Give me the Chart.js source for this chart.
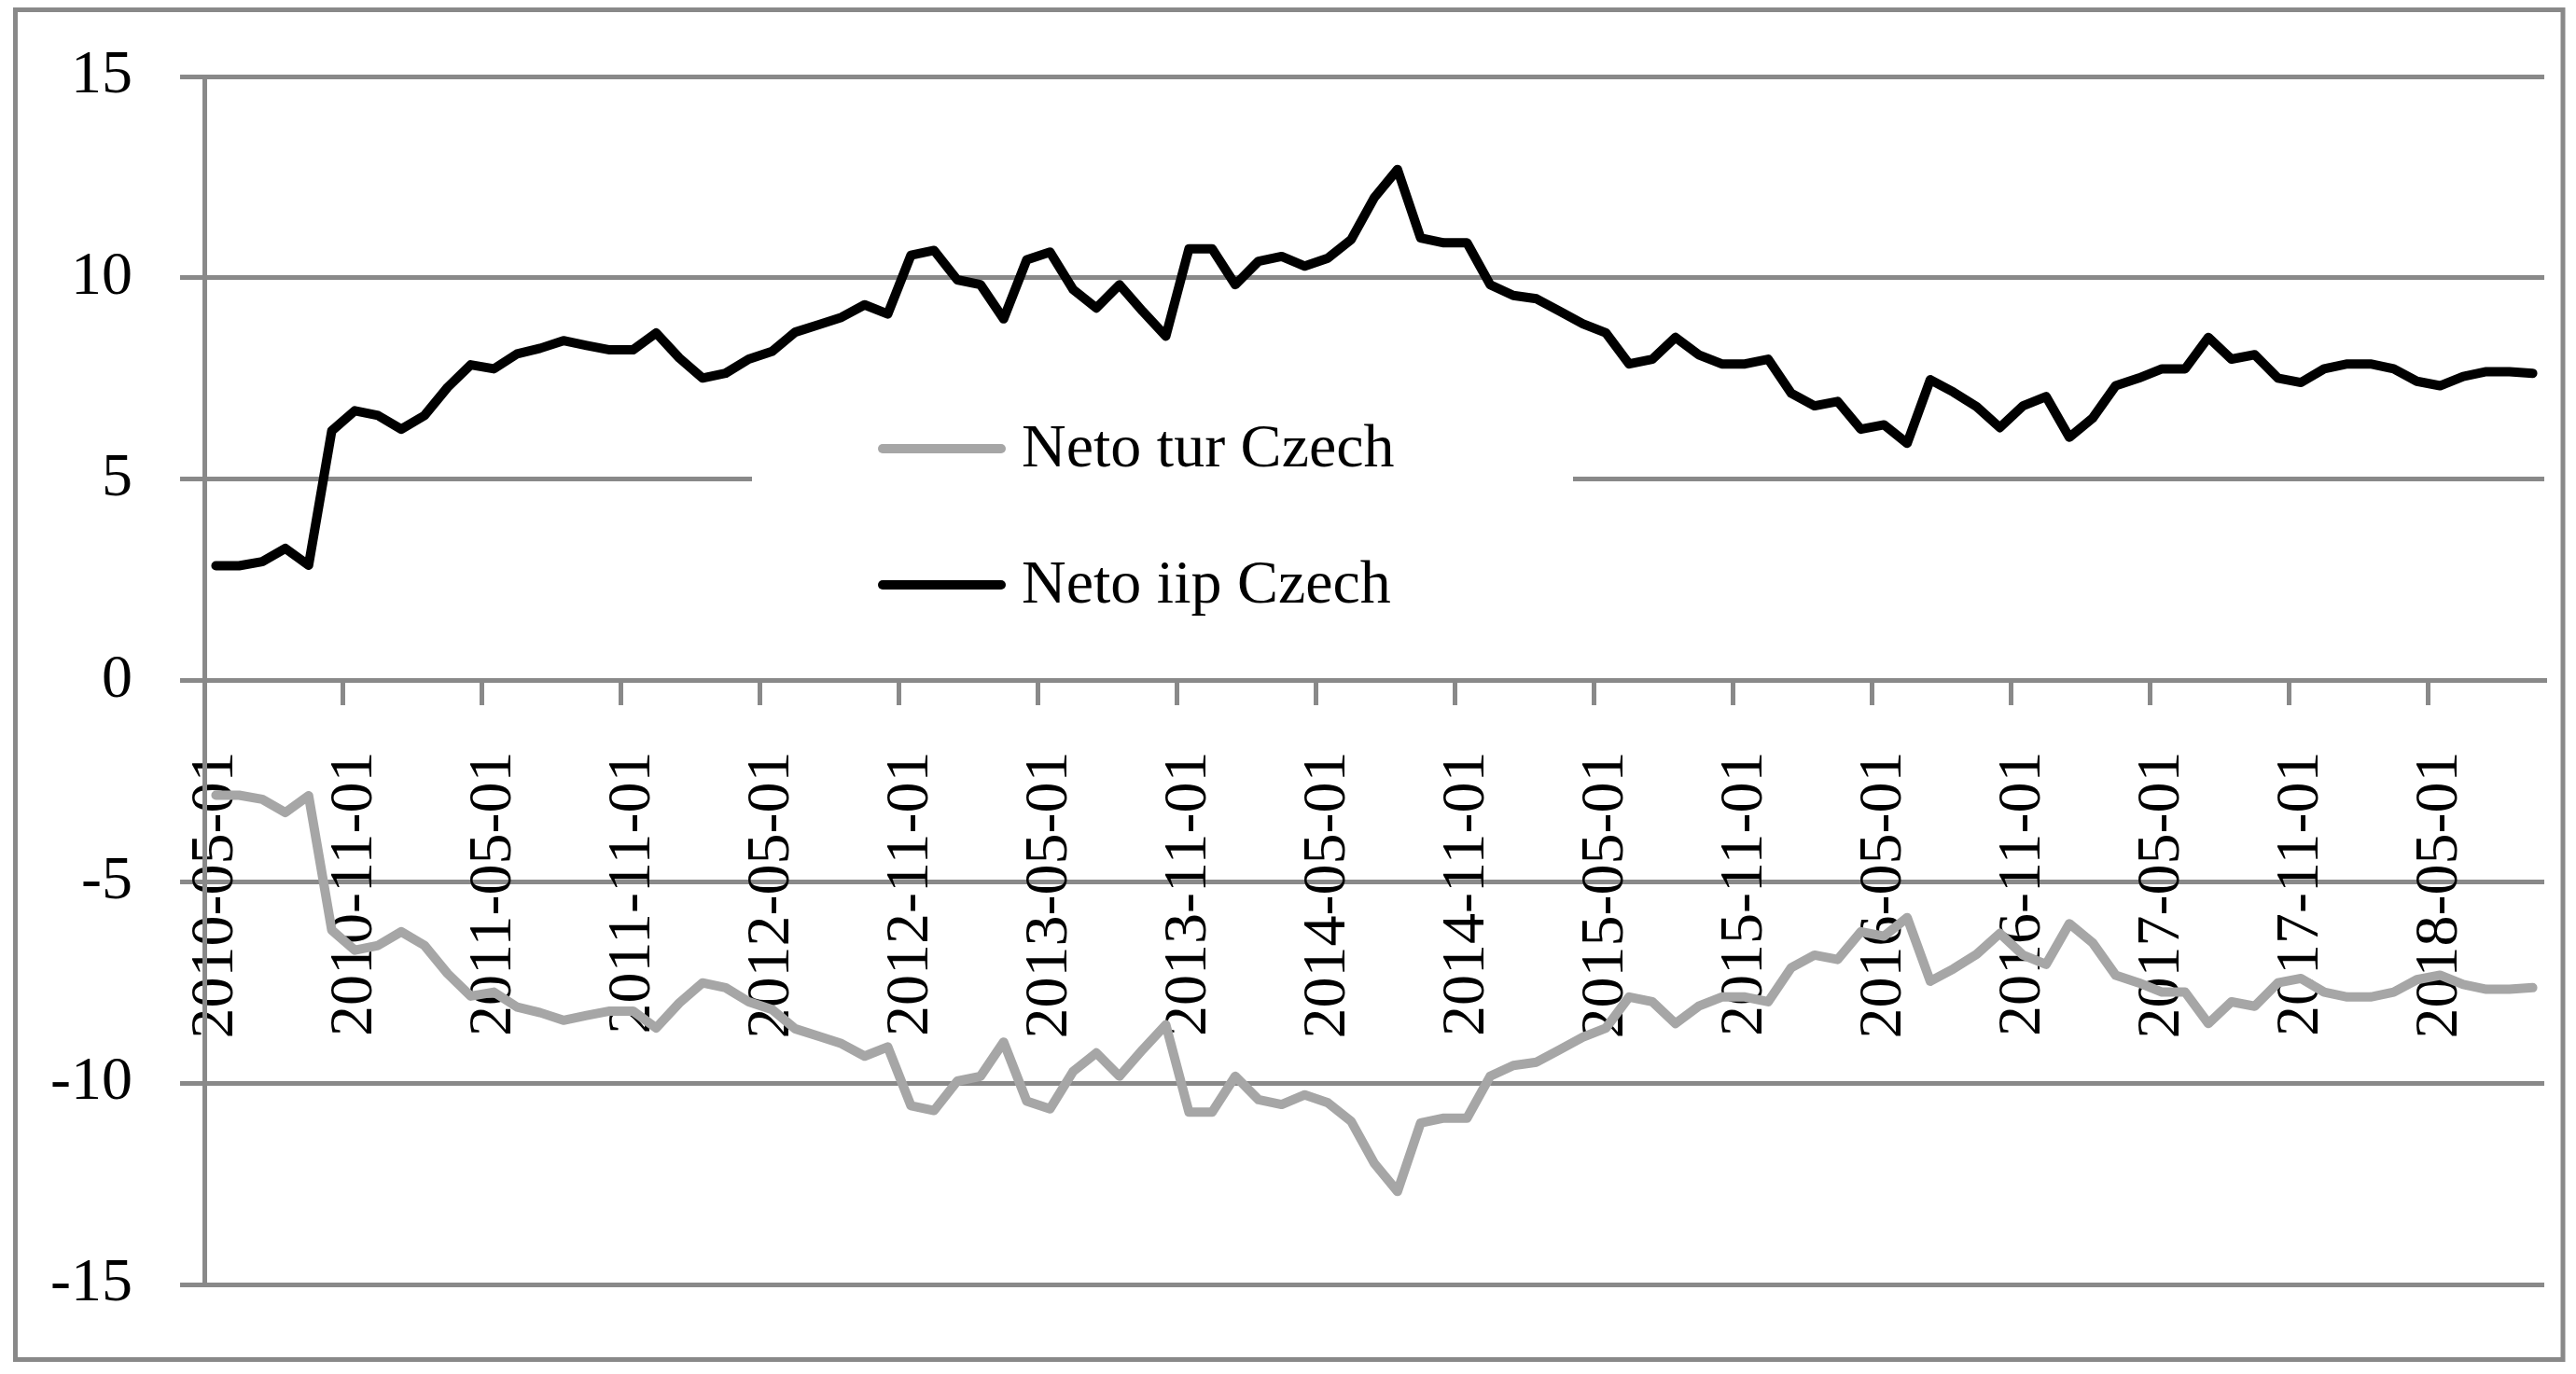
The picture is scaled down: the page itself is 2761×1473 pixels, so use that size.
<!DOCTYPE html>
<html>
<head>
<meta charset="utf-8">
<script src="https://cdn.jsdelivr.net/npm/chart.js@4/dist/chart.umd.min.js"></script>
<style>
  html, body { margin: 0; padding: 0; background: #fff; }
  canvas { display: block; }
</style>
</head>
<body>
<canvas id="chart" width="2761" height="1473"></canvas>
<script>
// monthly categories, 2010-05 .. 2018-09
const months = [
  "2010-05-01", "2010-06-01", "2010-07-01", "2010-08-01", "2010-09-01", "2010-10-01", "2010-11-01", "2010-12-01",
  "2011-01-01", "2011-02-01", "2011-03-01", "2011-04-01", "2011-05-01", "2011-06-01", "2011-07-01", "2011-08-01", "2011-09-01", "2011-10-01", "2011-11-01", "2011-12-01",
  "2012-01-01", "2012-02-01", "2012-03-01", "2012-04-01", "2012-05-01", "2012-06-01", "2012-07-01", "2012-08-01", "2012-09-01", "2012-10-01", "2012-11-01", "2012-12-01",
  "2013-01-01", "2013-02-01", "2013-03-01", "2013-04-01", "2013-05-01", "2013-06-01", "2013-07-01", "2013-08-01", "2013-09-01", "2013-10-01", "2013-11-01", "2013-12-01",
  "2014-01-01", "2014-02-01", "2014-03-01", "2014-04-01", "2014-05-01", "2014-06-01", "2014-07-01", "2014-08-01", "2014-09-01", "2014-10-01", "2014-11-01", "2014-12-01",
  "2015-01-01", "2015-02-01", "2015-03-01", "2015-04-01", "2015-05-01", "2015-06-01", "2015-07-01", "2015-08-01", "2015-09-01", "2015-10-01", "2015-11-01", "2015-12-01",
  "2016-01-01", "2016-02-01", "2016-03-01", "2016-04-01", "2016-05-01", "2016-06-01", "2016-07-01", "2016-08-01", "2016-09-01", "2016-10-01", "2016-11-01", "2016-12-01",
  "2017-01-01", "2017-02-01", "2017-03-01", "2017-04-01", "2017-05-01", "2017-06-01", "2017-07-01", "2017-08-01", "2017-09-01", "2017-10-01", "2017-11-01", "2017-12-01",
  "2018-01-01", "2018-02-01", "2018-03-01", "2018-04-01", "2018-05-01", "2018-06-01", "2018-07-01", "2018-08-01", "2018-09-01"
];

// labels that are printed under the axis
const tickLabels = [
  "2010-05-01", "2010-11-01", "2011-05-01", "2011-11-01", "2012-05-01", "2012-11-01",
  "2013-05-01", "2013-11-01", "2014-05-01", "2014-11-01", "2015-05-01", "2015-11-01",
  "2016-05-01", "2016-11-01", "2017-05-01", "2017-11-01", "2018-05-01"
];

const yTicks = [-15, -10, -5, 0, 5, 10, 15];

const netoIip = [
  2.85, 2.85, 2.95, 3.28, 2.86, 6.2, 6.7, 6.58,
  6.24, 6.58, 7.28, 7.84, 7.74, 8.11, 8.25, 8.44, 8.32, 8.21, 8.21, 8.63,
  8.01, 7.51, 7.63, 7.98, 8.17, 8.65, 8.83, 9.02, 9.33, 9.1, 10.56, 10.68,
  9.95, 9.83, 8.98, 10.45, 10.64, 9.71, 9.25, 9.83, 9.17, 8.55, 10.72, 10.72,
  9.83, 10.41, 10.53, 10.29, 10.49, 10.95, 11.99, 12.69, 10.99, 10.87, 10.87, 9.83,
  9.56, 9.48, 9.17, 8.86, 8.63, 7.86, 7.98, 8.52, 8.09, 7.86, 7.86, 7.98,
  7.13, 6.82, 6.93, 6.24, 6.35, 5.89, 7.47, 7.16, 6.8, 6.28, 6.82, 7.05,
  6.04, 6.51, 7.32, 7.51, 7.74, 7.74, 8.52, 7.98, 8.09, 7.51, 7.4, 7.74,
  7.86, 7.86, 7.74, 7.43, 7.32, 7.55, 7.67, 7.67, 7.63
];

const netoTur = [
  -2.85, -2.85, -2.95, -3.28, -2.86, -6.2, -6.7, -6.58,
  -6.24, -6.58, -7.28, -7.84, -7.74, -8.11, -8.25, -8.44, -8.32, -8.21, -8.21, -8.63,
  -8.01, -7.51, -7.63, -7.98, -8.17, -8.65, -8.83, -9.02, -9.33, -9.1, -10.56, -10.68,
  -9.95, -9.83, -8.98, -10.45, -10.64, -9.71, -9.25, -9.83, -9.17, -8.55, -10.72, -10.72,
  -9.83, -10.41, -10.53, -10.29, -10.49, -10.95, -11.99, -12.69, -10.99, -10.87, -10.87, -9.83,
  -9.56, -9.48, -9.17, -8.86, -8.63, -7.86, -7.98, -8.52, -8.09, -7.86, -7.86, -7.98,
  -7.13, -6.82, -6.93, -6.24, -6.35, -5.89, -7.47, -7.16, -6.8, -6.28, -6.82, -7.05,
  -6.04, -6.51, -7.32, -7.51, -7.74, -7.74, -8.52, -7.98, -8.09, -7.51, -7.4, -7.74,
  -7.86, -7.86, -7.74, -7.43, -7.32, -7.55, -7.67, -7.67, -7.63
];

const seriesNames = ["Neto tur Czech", "Neto iip Czech"];
const seriesColors = ["#a6a6a6", "#000000"];

const GRID = "#898989";
const FONT = "'Liberation Serif', 'DejaVu Serif', serif";

// outer chart border, like the spreadsheet frame
const framePlugin = {
  id: "frame",
  afterDraw(chart) {
    const c = chart.ctx;
    c.save();
    c.strokeStyle = GRID;
    c.lineWidth = 5;
    c.strokeRect(16.5, 10.5, 2747 - 16.5, 1457.5 - 10.5);
    c.restore();
  },
};

// legend sits inside the plot on a white box
const legendPlugin = {
  id: "insideLegend",
  afterDatasetsDraw(chart) {
    const c = chart.ctx;
    c.save();
    c.fillStyle = "#fff";
    c.fillRect(806, 420, 880, 280);
    const rows = [481, 627];
    chart.data.datasets.forEach((ds, i) => {
      const y = rows[i];
      c.strokeStyle = ds.borderColor;
      c.lineWidth = 10;
      c.lineCap = "round";
      c.beginPath();
      c.moveTo(946, y);
      c.lineTo(1073, y);
      c.stroke();
      c.fillStyle = "#000";
      c.font = "66px " + FONT;
      c.textBaseline = "middle";
      c.textAlign = "left";
      c.fillText(ds.label, 1095, y + 2);
    });
    c.restore();
  },
};

new Chart(document.getElementById("chart"), {
  type: "line",
  data: {
    labels: months,
    datasets: [
      {
        label: seriesNames[0],
        data: netoTur,
        borderColor: seriesColors[0],
        borderWidth: 10,
        pointRadius: 0,
        tension: 0,
        borderCapStyle: "round",
        borderJoinStyle: "round",
      },
      {
        label: seriesNames[1],
        data: netoIip,
        borderColor: seriesColors[1],
        borderWidth: 10,
        pointRadius: 0,
        tension: 0,
        borderCapStyle: "round",
        borderJoinStyle: "round",
      },
    ],
  },
  options: {
    responsive: false,
    animation: false,
    devicePixelRatio: 1,
    layout: { padding: { left: 0, top: 82, right: 34, bottom: 96 } },
    plugins: {
      legend: { display: false },
      tooltip: { enabled: false },
    },
    scales: {
      x: {
        type: "category",
        offset: true,
        position: { y: 0 },
        grid: {
          offset: true,
          drawOnChartArea: false,
          drawTicks: true,
          tickLength: 24,
          lineWidth: 5,
          color: (ctx) => (ctx.index % 6 === 0 ? GRID : "rgba(0,0,0,0)"),
        },
        border: { display: true, color: GRID, width: 5 },
        ticks: {
          autoSkip: false,
          maxRotation: 90,
          minRotation: 90,
          padding: 52,
          color: "#000",
          font: { family: FONT, size: 66 },
          callback: function (value) {
            const lab = this.getLabelForValue(value);
            return tickLabels.includes(lab) ? lab : "";
          },
        },
        afterFit: (scale) => {
          scale.paddingLeft = 0;
          scale.paddingRight = 0;
        },
      },
      y: {
        min: yTicks[0],
        max: yTicks[yTicks.length - 1],
        afterBuildTicks: (scale) => {
          scale.ticks = yTicks.map((v) => ({ value: v }));
        },
        grid: { color: GRID, lineWidth: 5, tickLength: 26 },
        border: { display: true, color: GRID, width: 5 },
        ticks: {
          padding: 51,
          color: "#000",
          font: { family: FONT, size: 66 },
        },
        afterFit: (scale) => {
          scale.width = 219;
          scale.paddingTop = 0;
          scale.paddingBottom = 0;
        },
      },
    },
  },
  plugins: [legendPlugin, framePlugin],
});
</script>
</body>
</html>
